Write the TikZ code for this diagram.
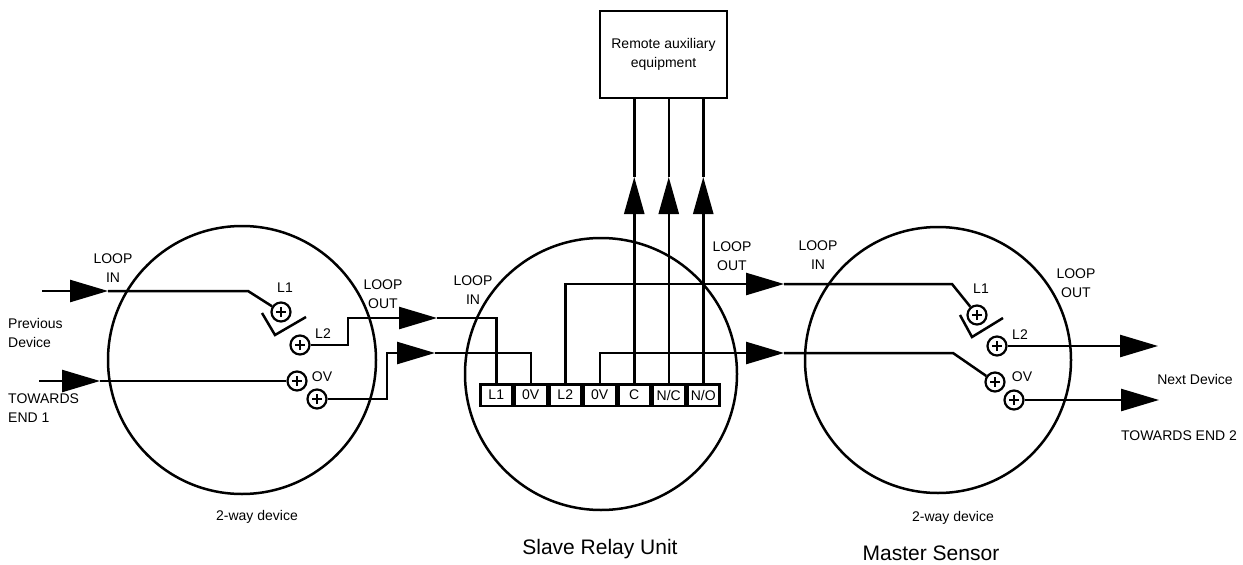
\documentclass[tikz,border=0pt]{standalone}
\usepackage{fontspec}
\setmainfont{Liberation Sans}
\usetikzlibrary{arrows.meta,positioning}

\tikzset{
  wire/.style={line width=2.5pt},
  flow/.style={wire,-{Triangle[length=38pt,width=22pt]}},
  upflow/.style={wire,-{Triangle[length=37pt,width=20pt]}},
  term/.style={circle,draw,line width=2.2pt,minimum size=19pt,inner sep=0pt,
    path picture={\draw[line width=1.8pt]
      ([xshift=-5pt]path picture bounding box.center) -- ([xshift=5pt]path picture bounding box.center)
      ([yshift=-5pt]path picture bounding box.center) -- ([yshift=5pt]path picture bounding box.center);}},
  cell/.style={draw,line width=2.5pt,minimum width=32pt,minimum height=21.5pt,inner sep=0pt,
    font=\fontsize{14}{16}\selectfont},
  lbl/.style={font=\fontsize{14}{19}\selectfont,align=center,inner sep=0pt},
  big/.style={font=\fontsize{21}{25}\selectfont,inner sep=0pt}
}

\begin{document}
\begin{tikzpicture}[x=1pt,y=-1pt]
\useasboundingbox (0,0) rectangle (1243,565);

% the three units
\draw[wire] (242,360) circle (134pt);
\draw[wire] (601,374) circle (136pt);
\draw[wire] (938,360) circle (133pt);

% terminal strip of the relay unit
\node[cell] (t1) at (496.25,395) {L1};
\node[cell,right=0pt of t1] (t2) {0V};
\node[cell,right=0pt of t2] (t3) {L2};
\node[cell,right=0pt of t3] (t4) {0V};
\node[cell,right=0pt of t4] (t5) {C};
\node[cell,right=0pt of t5] (t6) {N/C};
\node[cell,right=0pt of t6] (t7) {N/O};

% remote equipment
\node[draw,line width=2.5pt,minimum width=127pt,minimum height=87pt,lbl] (rem) at (663.5,54.5)
  {Remote auxiliary\\equipment};

% left 2-way device
\node[term] (lt1) at (281,312) {};
\node[term] (lt2) at (300,345) {};
\node[term] (lt3) at (297,381) {};
\node[term] (lt4) at (317,399) {};
\draw[wire] (262,313) -- (275,335) -- (306,317);

\coordinate (inL) at (42,291);
\coordinate (inLtip) at (108,291);
\draw[flow] (inL) -- (inLtip);
\draw[wire] (inLtip) -- (248,291) -- (lt1);

\coordinate (ovL) at (39,381);
\coordinate (ovLtip) at (100,381);
\draw[flow] (ovL) -- (ovLtip);
\draw[wire] (ovLtip) -- (lt3);

\coordinate (l2tip) at (437,318);
\draw[flow] (lt2) -- (348,345) -- (348,318) -- (l2tip);
\draw[wire] (l2tip) -- (t1.north |- l2tip) -- (t1.north);

\coordinate (ovtip) at (435,353);
\draw[flow] (lt4) -- (387,399) -- (387,353) -- (ovtip);
\draw[wire] (ovtip) -- (t2.north |- ovtip) -- (t2.north);

% right 2-way device (master sensor)
\node[term] (rt1) at (977,315) {};
\node[term] (rt2) at (997,346) {};
\node[term] (rt3) at (995,382) {};
\node[term] (rt4) at (1014,400) {};
\draw[wire] (960,315) -- (972,337) -- (1003,318);

\coordinate (outtip) at (784,284);
\draw[flow] (t3.north) -- (t3.north |- outtip) -- (outtip);
\draw[wire] (outtip) -- (952,284) -- (rt1);

\coordinate (ovouttip) at (784,353);
\draw[flow] (t4.north) -- (t4.north |- ovouttip) -- (ovouttip);
\draw[wire] (ovouttip) -- (953,353) -- (rt3);

\coordinate (nextL2) at (1158,346);
\coordinate (nextOV) at (1159,400);
\draw[flow] (rt2) -- (nextL2);
\draw[flow] (rt4) -- (nextOV);

% relay contacts up to the remote box
\coordinate (upy) at (0,177);
\draw[upflow] (t5.north) -- (t5.north |- upy);
\draw[wire] (t5.north |- upy) -- (t5.north |- rem.south);
\draw[upflow] (t6.north) -- (t6.north |- upy);
\draw[wire] (t6.north |- upy) -- (t6.north |- rem.south);
\draw[upflow] (t7.north) -- (t7.north |- upy);
\draw[wire] (t7.north |- upy) -- (t7.north |- rem.south);

% labels
\node[lbl] (linL) at (113,268) {LOOP\\IN};
\node[lbl] (loutL) at (383,294) {LOOP\\OUT};
\node[lbl,anchor=west,align=left] (prev) at (8,333) {Previous\\Device};
\node[lbl,anchor=west,align=left] (end1) at (8,408) {TOWARDS\\END 1};
\node[lbl] at (285,288) {L1};
\node[lbl] at (323,334) {L2};
\node[lbl] at (322,377) {OV};
\node[lbl] (dev1) at (257,517) {2-way device};

\node[lbl] (linM) at (473,290) {LOOP\\IN};
\node[lbl] (loutM) at (732,256) {LOOP\\OUT};
\node[big] (sru) at (600,549) {Slave Relay Unit};

\node[lbl] (linR) at (818,255) {LOOP\\IN};
\node[lbl] (loutR) at (1076,283) {LOOP\\OUT};
\node[lbl] at (981,289) {L1};
\node[lbl] at (1020,335) {L2};
\node[lbl] at (1022,377) {OV};
\node[lbl] (next) at (1195,379) {Next Device};
\node[lbl] (end2) at (1179,436) {TOWARDS END 2};
\node[lbl] (dev2) at (953,518) {2-way device};
\node[big] (ms) at (931,553) {Master Sensor};
\end{tikzpicture}
\end{document}
